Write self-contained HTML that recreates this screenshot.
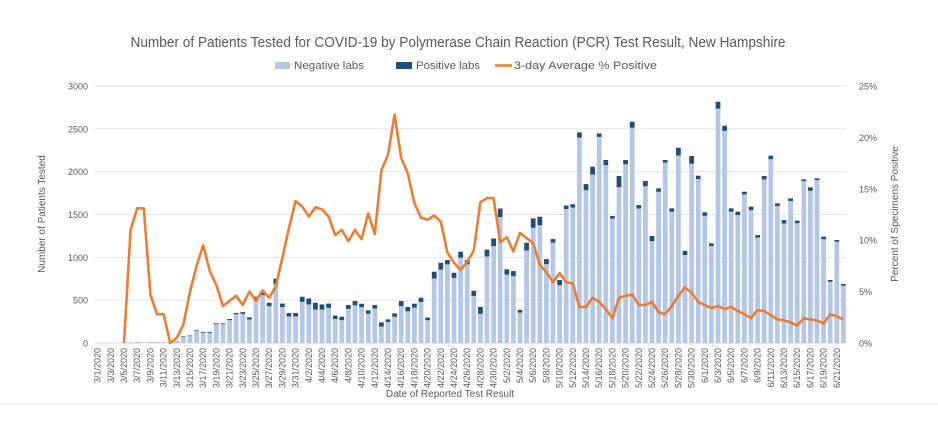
<!DOCTYPE html>
<html><head><meta charset="utf-8">
<style>
html,body{margin:0;padding:0;background:#fff;}
svg{display:block;font-family:"Liberation Sans",sans-serif;}
</style></head>
<body>
<svg id="chart" width="938" height="438" viewBox="0 0 938 438" xmlns="http://www.w3.org/2000/svg">
<rect x="0" y="0" width="938" height="438" fill="#fff"/>
<line x1="0" y1="404" x2="938" y2="404" stroke="#e6e6e6" stroke-width="1"/>
<text x="458" y="47" text-anchor="middle" font-size="15" fill="#595959" textLength="655" lengthAdjust="spacingAndGlyphs">Number of Patients Tested for COVID-19 by Polymerase Chain Reaction (PCR) Test Result, New Hampshire</text>
<g>
<rect x="275" y="62" width="15" height="7" fill="#b4c7e7"/>
<text x="294" y="69" font-size="11" fill="#595959" textLength="70" lengthAdjust="spacingAndGlyphs">Negative labs</text>
<rect x="396" y="62" width="16" height="7" fill="#1f4e79"/>
<text x="416" y="69" font-size="11" fill="#595959" textLength="64" lengthAdjust="spacingAndGlyphs">Positive labs</text>
<line x1="495" y1="65.5" x2="512" y2="65.5" stroke="#ed7d31" stroke-width="2.5"/>
<text x="514" y="69" font-size="11" fill="#595959" textLength="143" lengthAdjust="spacingAndGlyphs">3-day Average % Positive</text>
</g>
<g id="grid"></g>
<g id="bars"></g>
<g id="line"></g>
<g id="axes"></g>
<text transform="translate(45,214) rotate(-90)" text-anchor="middle" font-size="10" fill="#595959">Number of Patients Tested</text>
<text transform="translate(898,214) rotate(-90)" text-anchor="middle" font-size="10" fill="#595959">Percent of Specimens Positive</text>
<text x="450" y="397" text-anchor="middle" font-size="10" fill="#595959">Date of Reported Test Result</text>
</svg>
<script>
const startDate = [2020, 3, 1];
const totals = [0,0,0,0,5,5,10,5,10,10,10,5,20,
80,90,150,130,130,230,230,280,350,360,300,540,600,470,750,460,350,350,
540,520,470,450,460,320,307,443,490,458,381,443,241,276,346,490,420,459,529,296,832,937,968,820,1066,968,610,420,1090,1220,
1570,860,840,386,1170,1455,1474,980,1213,735,1604,1620,2458,1855,2057,2446,2136,1482,1949,2136,2583,1610,1891,1249,1805,2136,1572,2279,1077,2183,1953,
1525,1163,2816,2536,1572,1533,1766,1591,1260,1949,2186,1630,1435,1688,1428,1910,1817,1922,1241,735,1202,689];
const positives = [0,0,0,0,1,1,2,1,2,2,2,1,3,
5,5,8,10,10,10,10,12,15,20,25,30,40,40,60,40,40,40,
60,70,80,60,50,40,40,45,50,40,40,40,50,30,40,60,50,45,50,30,80,80,50,60,70,50,60,80,80,90,
100,60,60,30,90,110,100,60,40,60,40,40,60,70,90,40,60,30,130,50,70,40,60,60,40,30,40,90,50,90,40,
40,30,80,60,40,40,30,40,30,40,40,30,40,30,30,20,40,20,30,20,20,20,10];
const pctStartIndex = 4;
const pctAvg = [0,11,13.1,13.1,4.7,2.8,2.8,0,0.5,1.8,5.0,7.5,9.5,7.0,5.6,3.6,4.1,4.6,3.7,5.0,4.1,5.1,4.4,5.5,8.3,11.2,13.8,
13.3,12.3,13.2,13.0,12.3,10.5,11.0,9.9,11.0,10.1,12.6,10.6,16.8,18.3,22.2,
18,16.5,13.6,12.2,12,12.4,11.8,8.8,7.8,7.1,7.9,9,13.7,14.1,14.1,
9.8,10.3,8.9,10.7,10.2,9.7,7.6,6.9,5.9,6.8,5.9,5.8,3.5,3.5,4.4,
4.0,3.3,2.4,4.4,4.6,4.7,3.7,3.7,4.0,3.0,2.8,3.6,4.6,5.4,4.9,4.0,
3.7,3.4,3.6,3.3,3.5,3.1,2.8,2.4,3.2,3.1,2.7,2.3,2.2,2.0,1.7,2.4,2.3,2.2,1.9,2.8,2.6,2.3];
const leftTicks = [0,500,1000,1500,2000,2500,3000];
const rightTicks = ["0%","5%","10%","15%","20%","25%"];
const rightTickValues = [0,5,10,15,20,25];

const NS = "http://www.w3.org/2000/svg";
const L = 94.3, R = 846.7, T = 86, B = 343;
const n = totals.length;
const step = (R - L) / n;
const xC = i => L + step * (i + 0.5);
const yL = v => B - v / 3000 * (B - T);
const yR = v => B - v / 25 * (B - T);
function mk(tag, attrs, parent){ const e=document.createElementNS(NS,tag); for(const k in attrs) e.setAttribute(k,attrs[k]); parent.appendChild(e); return e; }
const grid = document.getElementById('grid'), bars = document.getElementById('bars'), lineG = document.getElementById('line'), axes = document.getElementById('axes');

leftTicks.forEach(v => {
  const g = mk('line',{x1:L,x2:R,y1:yL(v),y2:yL(v),stroke:v===0?'#d9d9d9':'#e4e4e4','stroke-width':1},grid);
  
  
  const t = mk('text',{x:88,y:yL(v)+3.5,'text-anchor':'end','font-size':9,fill:'#595959'},axes);
  t.textContent = v;
  
  
});
rightTickValues.forEach((v,k) => {
  const t = mk('text',{x:859,y:yR(v)+3.5,'font-size':9,fill:'#595959'},axes);
  t.textContent = rightTicks[k];
  
  
});

const bw = step * 0.72;
for (let i=0;i<n;i++){
  const tot = totals[i], pos = Math.min(positives[i], tot), neg = tot - pos;
  const r1 = mk('rect',{x:xC(i)-bw/2,y:yL(neg),width:bw,height:B-yL(neg),fill:'#b4c7e7'},bars);
  
  
  const r2 = mk('rect',{x:xC(i)-bw/2,y:yL(tot),width:bw,height:yL(neg)-yL(tot),fill:'#1f4e79'},bars);
  
  
  if (i % 2 === 0){
    const d = new Date(startDate[0], startDate[1]-1, startDate[2]+i);
    const lbl = (d.getMonth()+1)+'/'+d.getDate()+'/'+d.getFullYear();
    const t = mk('text',{transform:`translate(${xC(i)+3},348) rotate(-90)`,'text-anchor':'end','font-size':9,fill:'#595959'},axes);
    t.textContent = lbl;
    
    
  }
}
const pts = pctAvg.map((v,k)=> xC(pctStartIndex+k).toFixed(1)+','+yR(v).toFixed(1)).join(' ');
const pl = mk('polyline',{points:pts,fill:'none',stroke:'#ed7d31','stroke-width':2.6,'stroke-linejoin':'round'},lineG);


</script>
</body></html>
